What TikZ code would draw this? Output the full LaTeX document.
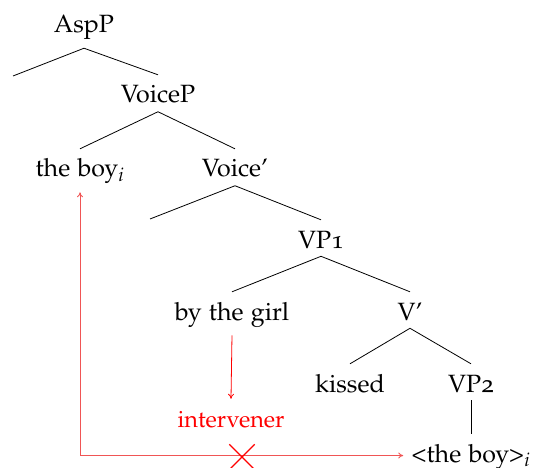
\documentclass[tikz,border=0pt]{standalone}
\usepackage[T1]{fontenc}
\usepackage[osf]{mathpazo}
\usetikzlibrary{shapes.misc,arrows.meta}
\definecolor{lightred}{RGB}{240,85,85}
\tikzset{
  lab/.style={inner xsep=8pt, inner ysep=8pt, text height=20pt, font=\fontsize{25}{30}\selectfont},
  branch/.style={line width=0.8pt},
  mov/.style={lightred, line width=0.9pt, {To[length=5pt,width=6pt]}-{To[length=5pt,width=6pt]}},
  intv/.style={red, line width=0.8pt, -{To[length=5pt,width=6pt]}},
  xmark/.style={cross out, draw=red, line width=1.4pt, minimum width=24pt, minimum height=24pt, inner sep=0pt}
}
\begin{document}
\begin{tikzpicture}[x=1pt,y=-1pt]
\useasboundingbox (0,0) rectangle (536,468);
\node[lab, anchor=base] (asp) at (84,33) {AspP};
\coordinate (aspl) at (13,76);
\node[lab, anchor=base] (voicep) at (158,103) {VoiceP};
\node[lab, anchor=base] (theboy) at (80,177) {the boy$_i$};
\node[lab, anchor=base] (voicebar) at (235,177) {Voice'};
\coordinate (vbl) at (150,219);
\node[lab, anchor=base] (vp1) at (321,248) {VP1};
\node[lab, anchor=base] (bygirl) at (232,320) {by the girl};
\node[lab, anchor=base] (vbar) at (410,320) {V'};
\node[lab, anchor=base] (kissed) at (350,392) {kissed};
\node[lab, anchor=base] (vp2) at (471,392) {VP2};
\node[lab, anchor=base, red, font=\fontsize{23.5}{28}\selectfont] (interv) at (231,427) {intervener};
\node[lab, anchor=base] (trace) at (471,462) {<the boy>$_i$};

\draw[branch] (aspl) -- (asp.south) -- (voicep.north);
\draw[branch] (theboy.north) -- (voicep.south) -- (voicebar.north);
\draw[branch] (vbl) -- (voicebar.south) -- (vp1.north);
\draw[branch] (bygirl.north) -- (vp1.south) -- (vbar.north);
\draw[branch] (kissed.north) -- (vbar.south) -- (vp2.north);
\draw[branch] (vp2.south) -- (trace.north);

\draw[intv] (bygirl.south) -- (interv.north);
\draw[mov] (theboy.south) |- (trace.west);
\node[xmark] (cross) at (242,457) {};
\end{tikzpicture}
\end{document}
